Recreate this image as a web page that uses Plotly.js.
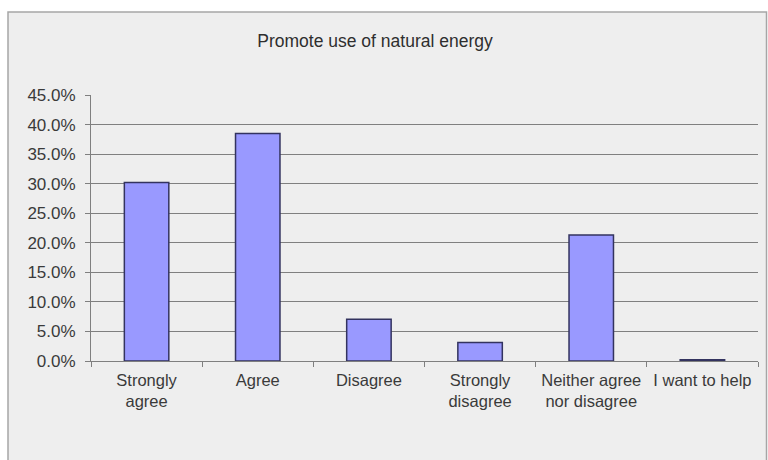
<!DOCTYPE html>
<html>
<head>
<meta charset="utf-8">
<script src="https://cdn.plot.ly/plotly-3.0.1.min.js"></script>
<style>html,body{margin:0;padding:0;background:#fff;}#chart{width:768px;height:460px;}</style>
</head>
<body>
<div id="chart"></div>
<script>
const categories = ["Strongly<br>agree", "Agree", "Disagree", "Strongly<br>disagree", "Neither agree<br>nor disagree", "I want to help"];
const percentValues = [30.2, 38.5, 7.05, 3.15, 21.3, 0.2];
const yTickValues = [0, 5, 10, 15, 20, 25, 30, 35, 40, 45];
const yTickLabels = yTickValues.map(v => v.toFixed(1) + "%");
const chartTitle = "Promote use of natural energy";

const W = 768, H = 460;
const mL = 91, mR = 10, mT = 95, mB = 99;
const pw = W - mL - mR, ph = H - mT - mB;
const px = x => (x - mL) / pw;
const py = y => (H - mB - y) / ph;

const font = "Liberation Sans, Arial, sans-serif";

const trace = {
  type: "bar",
  x: categories,
  y: percentValues,
  marker: { color: "#9999ff", line: { color: "#33335f", width: 1.5 } },
  hoverinfo: "skip"
};

const layout = {
  width: W, height: H,
  margin: { l: mL, r: mR, t: mT, b: mB },
  paper_bgcolor: "#ffffff",
  plot_bgcolor: "rgba(0,0,0,0)",
  showlegend: false,
  bargap: 0.6,
  font: { family: font, size: 17, color: "#3a3a3a" },
  title: {
    text: chartTitle,
    font: { family: font, size: 17.5, color: "#2e2e2e" },
    xref: "paper", x: px(375), xanchor: "center",
    yref: "container", y: 1 - 41 / H, yanchor: "middle"
  },
  xaxis: {
    type: "category",
    showline: true, linecolor: "#7f7f7f", linewidth: 1,
    ticks: "outside", ticklen: 5, tickcolor: "#7f7f7f", tickson: "boundaries",
    tickfont: { family: font, size: 16.5, color: "#3a3a3a" },
    tickangle: 0,
    ticklabelstandoff: 4,
    showgrid: false, fixedrange: true
  },
  yaxis: {
    range: [0, 45],
    tickmode: "array",
    tickvals: yTickValues,
    ticktext: yTickLabels,
    showline: true, linecolor: "#7f7f7f", linewidth: 1,
    ticks: "outside", ticklen: 5, tickcolor: "#7f7f7f",
    showgrid: true, gridcolor: "#7f7f7f", gridwidth: 1,
    zeroline: false,
    tickfont: { family: font, size: 17, color: "#3a3a3a" },
    ticklabelstandoff: 6,
    fixedrange: true
  },
  shapes: [{
    type: "rect", xref: "paper", yref: "paper", layer: "below",
    x0: px(8), x1: px(766.5), y0: py(475), y1: py(12),
    fillcolor: "#eeeeee", line: { color: "#a6a6a6", width: 1.5 }
  }]
};

Plotly.newPlot("chart", [trace], layout, { displayModeBar: false, staticPlot: true });
</script>
</body>
</html>
